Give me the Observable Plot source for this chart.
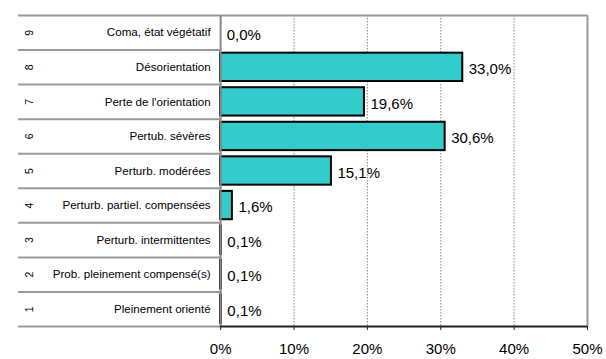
<!DOCTYPE html>
<html><head><meta charset="utf-8">
<script src="https://cdn.jsdelivr.net/npm/d3@7"></script>
<script src="https://cdn.jsdelivr.net/npm/@observablehq/plot@0.6"></script>
<style>body{margin:0;background:#fff}</style>
</head><body><div id="chart"></div>
<script>
const rows = [9, 8, 7, 6, 5, 4, 3, 2, 1];
const labels = ["Coma, état végétatif", "Désorientation", "Perte de l'orientation", "Pertub. sévères", "Perturb. modérées", "Perturb. partiel. compensées", "Perturb. intermittentes", "Prob. pleinement compensé(s)", "Pleinement orienté"];
const values = [0.0, 33.0, 19.6, 30.6, 15.1, 1.6, 0.1, 0.1, 0.1];
const xTicks = [0, 10, 20, 30, 40, 50];
const tableLeft = -27.55;

const data = rows.map((r, i) => ({row: r, label: labels[i], value: values[i]}));
const edges = d3.range(0.5, 10, 1);
const fmt = v => v.toFixed(1).replace(".", ",") + "%";

const chart = Plot.plot({
  width: 606, height: 359,
  marginLeft: 18, marginRight: 19, marginTop: 15, marginBottom: 33,
  style: {fontFamily: "'Liberation Sans', Arial, sans-serif", background: "#fff", color: "#000"},
  x: {type: "linear", domain: [tableLeft, 50]},
  y: {type: "linear", domain: [0.5, 9.5], axis: null},
  marks: [
    Plot.ruleX(xTicks.slice(1), {stroke: "#888", strokeWidth: 1, strokeDasharray: "1.5,1.5"}),
    Plot.ruleY(edges, {x1: tableLeft, x2: 0, stroke: "#999", strokeWidth: 2}),
    Plot.ruleY([9.5], {x1: 0, x2: 50, stroke: "#999", strokeWidth: 2}),
    Plot.ruleX([50], {stroke: "#999", strokeWidth: 2}),
    Plot.rect(data, {x1: 0, x2: "value", y1: d => d.row - 0.41, y2: d => d.row + 0.41, fill: "#33CCCC", stroke: "#000", strokeWidth: 2}),
    Plot.ruleX([0], {stroke: "#888", strokeWidth: 2}),
    Plot.ruleY([0.5], {x1: 0, x2: 50, stroke: "#222", strokeWidth: 2}),
    Plot.axisX({ticks: xTicks, tickFormat: d => d + "%", tickSize: 4, tickPadding: 13, fontSize: 15, stroke: "#222", label: null}),
    Plot.text(data, {x: 0, y: "row", text: "label", textAnchor: "end", dx: -10, fontSize: 11.6, fill: "#000"}),
    Plot.text(data, {x: tableLeft, y: "row", text: d => String(d.row), rotate: -90, dx: 11, fontSize: 10.5, fill: "#000"}),
    Plot.text(data, {x: "value", y: "row", text: d => fmt(d.value), textAnchor: "start", dx: 6, dy: 2, fontSize: 15, fill: "#000"})
  ]
});
document.getElementById("chart").append(chart);
</script>
</body></html>
